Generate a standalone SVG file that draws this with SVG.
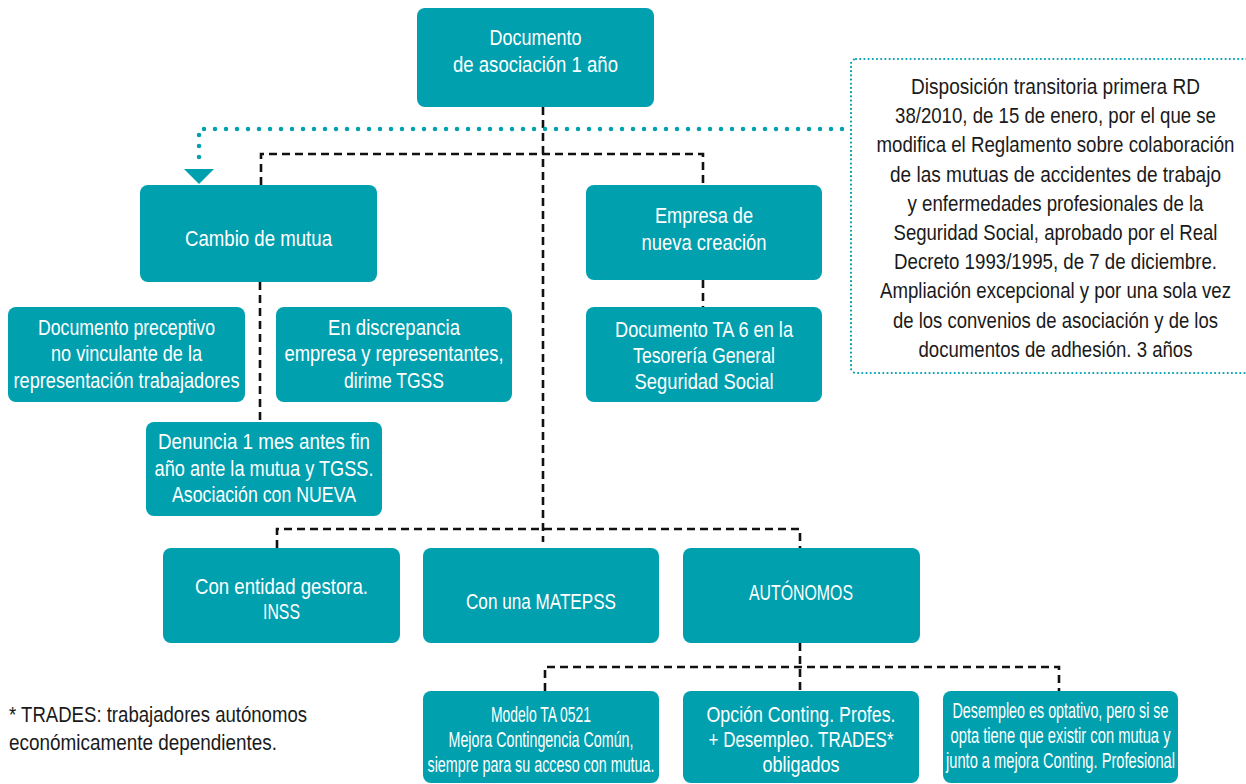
<svg xmlns="http://www.w3.org/2000/svg" width="1246" height="784" viewBox="0 0 1246 784">
  <style>
    .box { fill: #00A0AF; }
    .t { fill: #ffffff; font-family: "Liberation Sans", Arial, sans-serif; font-size: 22px; text-anchor: middle; }
    .k { fill: #1a1a1a; }
    .n { fill: #1a1a1a; font-family: "Liberation Sans", Arial, sans-serif; font-size: 22px; }
    .dash { fill: none; stroke: #111111; stroke-width: 2.6; stroke-dasharray: 8 5; }
    .dots { fill: none; stroke: #00A0AF; stroke-width: 4.5; stroke-linecap: round; stroke-dasharray: 0 11; }
    .fine { fill: none; stroke: #00A0AF; stroke-width: 2.2; stroke-linecap: round; stroke-dasharray: 0 4.2; }
  </style>
  <rect width="1246" height="784" fill="#ffffff"/>

  <!-- connectors -->
  <g id="connectors">
    <path class="dash" d="M543,107 V542"/>
    <path class="dash" d="M261,185 V154 H703 V185"/>
    <path class="dash" d="M703,280 V307"/>
    <path class="dash" d="M260,282 V422"/>
    <path class="dash" d="M277,548 V529 H800 V548"/>
    <path class="dash" d="M800,643 V691"/>
    <path class="dash" d="M545,691 V667 H1059 V691"/>
    <path class="dots" d="M842,129 H199 V163"/>
    <polygon points="184,169 214,169 199,184" fill="#00A0AF"/>
  </g>

  <!-- text is set in a horizontally condensed face: each label group is squeezed around its centre -->
  <g id="n-documento">
    <rect class="box" x="417" y="8" width="237" height="99" rx="8"/>
    <g transform="translate(535.5,0) scale(0.84,1)">
      <text class="t" x="0" y="45" textLength="109.5" lengthAdjust="spacingAndGlyphs">Documento</text>
      <text class="t" x="0" y="72" textLength="196.4" lengthAdjust="spacingAndGlyphs">de asociación 1 año</text>
    </g>
  </g>

  <g id="n-cambio">
    <rect class="box" x="140" y="185" width="237" height="97" rx="8"/>
    <g transform="translate(258.5,0) scale(0.84,1)">
      <text class="t" x="0" y="246" textLength="175" lengthAdjust="spacingAndGlyphs">Cambio de mutua</text>
    </g>
  </g>

  <g id="n-empresa">
    <rect class="box" x="586" y="185" width="236" height="95" rx="8"/>
    <g transform="translate(704,0) scale(0.84,1)">
      <text class="t" x="0" y="223" textLength="116.7" lengthAdjust="spacingAndGlyphs">Empresa de</text>
      <text class="t" x="0" y="250" textLength="148.8" lengthAdjust="spacingAndGlyphs">nueva creación</text>
    </g>
  </g>

  <g id="n-ta6">
    <rect class="box" x="586" y="307" width="236" height="95" rx="8"/>
    <g transform="translate(704,0) scale(0.84,1)">
      <text class="t" x="0" y="337" textLength="211.9" lengthAdjust="spacingAndGlyphs">Documento TA 6 en la</text>
      <text class="t" x="0" y="363" textLength="169" lengthAdjust="spacingAndGlyphs">Tesorería General</text>
      <text class="t" x="0" y="389" textLength="165.5" lengthAdjust="spacingAndGlyphs">Seguridad Social</text>
    </g>
  </g>

  <g id="n-preceptivo">
    <rect class="box" x="8" y="307" width="237" height="95" rx="8"/>
    <g transform="translate(126.5,0) scale(0.84,1)">
      <text class="t" x="0" y="335" textLength="210.7" lengthAdjust="spacingAndGlyphs">Documento preceptivo</text>
      <text class="t" x="0" y="361.5" textLength="179.8" lengthAdjust="spacingAndGlyphs">no vinculante de la</text>
      <text class="t" x="0" y="388" textLength="269" lengthAdjust="spacingAndGlyphs">representación trabajadores</text>
    </g>
  </g>

  <g id="n-discrepancia">
    <rect class="box" x="276" y="307" width="236" height="95" rx="8"/>
    <g transform="translate(394,0) scale(0.84,1)">
      <text class="t" x="0" y="335" textLength="157.1" lengthAdjust="spacingAndGlyphs">En discrepancia</text>
      <text class="t" x="0" y="361.5" textLength="260.7" lengthAdjust="spacingAndGlyphs">empresa y representantes,</text>
      <text class="t" x="0" y="388" textLength="119" lengthAdjust="spacingAndGlyphs">dirime TGSS</text>
    </g>
  </g>

  <g id="n-denuncia">
    <rect class="box" x="146" y="422" width="236" height="94" rx="8"/>
    <g transform="translate(264,0) scale(0.84,1)">
      <text class="t" x="0" y="449" textLength="252.4" lengthAdjust="spacingAndGlyphs">Denuncia 1 mes antes fin</text>
      <text class="t" x="0" y="476" textLength="260.7" lengthAdjust="spacingAndGlyphs">año ante la mutua y TGSS.</text>
      <text class="t" x="0" y="502" textLength="219" lengthAdjust="spacingAndGlyphs">Asociación con NUEVA</text>
    </g>
  </g>

  <g id="n-inss">
    <rect class="box" x="163" y="548" width="237" height="95" rx="8"/>
    <g transform="translate(281.5,0) scale(0.84,1)">
      <text class="t" x="0" y="594" textLength="206" lengthAdjust="spacingAndGlyphs">Con entidad gestora.</text>
      <text class="t" x="0" y="619" textLength="44" lengthAdjust="spacingAndGlyphs">INSS</text>
    </g>
  </g>

  <g id="n-matepss">
    <rect class="box" x="423" y="548" width="236" height="95" rx="8"/>
    <g transform="translate(541,0) scale(0.84,1)">
      <text class="t" x="0" y="609" textLength="178.6" lengthAdjust="spacingAndGlyphs">Con una MATEPSS</text>
    </g>
  </g>

  <g id="n-autonomos">
    <rect class="box" x="683" y="548" width="237" height="95" rx="8"/>
    <g transform="translate(801,0) scale(0.84,1)">
      <text class="t" x="0" y="600" textLength="123.8" lengthAdjust="spacingAndGlyphs">AUTÓNOMOS</text>
    </g>
  </g>

  <g id="n-modelo">
    <rect class="box" x="423" y="691" width="236" height="92" rx="8"/>
    <g transform="translate(541,0) scale(0.66,1)">
      <text class="t" x="0" y="722" textLength="151.5" lengthAdjust="spacingAndGlyphs">Modelo TA 0521</text>
      <text class="t" x="0" y="747" textLength="280.3" lengthAdjust="spacingAndGlyphs">Mejora Contingencia Común,</text>
      <text class="t" x="0" y="772" textLength="343.9" lengthAdjust="spacingAndGlyphs">siempre para su acceso con mutua.</text>
    </g>
  </g>

  <g id="n-opcion">
    <rect class="box" x="683" y="691" width="236" height="92" rx="8"/>
    <g transform="translate(801,0) scale(0.84,1)">
      <text class="t" x="0" y="722" textLength="225" lengthAdjust="spacingAndGlyphs">Opción Conting. Profes.</text>
      <text class="t" x="0" y="747" textLength="220.2" lengthAdjust="spacingAndGlyphs">+ Desempleo. TRADES*</text>
      <text class="t" x="0" y="772" textLength="91.7" lengthAdjust="spacingAndGlyphs">obligados</text>
    </g>
  </g>

  <g id="n-desempleo">
    <rect class="box" x="943" y="691" width="235" height="92" rx="8"/>
    <g transform="translate(1060.5,0) scale(0.66,1)">
      <text class="t" x="0" y="718" textLength="327.3" lengthAdjust="spacingAndGlyphs">Desempleo es optativo, pero si se</text>
      <text class="t" x="0" y="743" textLength="333.3" lengthAdjust="spacingAndGlyphs">opta tiene que existir con mutua y</text>
      <text class="t" x="0" y="768" textLength="347" lengthAdjust="spacingAndGlyphs">junto a mejora Conting. Profesional</text>
    </g>
  </g>

  <g id="n-disposicion">
    <rect class="fine" x="851" y="59" width="410" height="314" rx="5"/>
    <g transform="translate(1055.5,0) scale(0.84,1)">
      <text class="t k" x="0" y="94" textLength="344" lengthAdjust="spacingAndGlyphs">Disposición transitoria primera RD</text>
      <text class="t k" x="0" y="123.2" textLength="382.1" lengthAdjust="spacingAndGlyphs">38/2010, de 15 de enero, por el que se</text>
      <text class="t k" x="0" y="152.4" textLength="426.2" lengthAdjust="spacingAndGlyphs">modifica el Reglamento sobre colaboración</text>
      <text class="t k" x="0" y="181.6" textLength="394" lengthAdjust="spacingAndGlyphs">de las mutuas de accidentes de trabajo</text>
      <text class="t k" x="0" y="210.8" textLength="352.4" lengthAdjust="spacingAndGlyphs">y enfermedades profesionales de la</text>
      <text class="t k" x="0" y="240" textLength="385.7" lengthAdjust="spacingAndGlyphs">Seguridad Social, aprobado por el Real</text>
      <text class="t k" x="0" y="269.2" textLength="384.5" lengthAdjust="spacingAndGlyphs">Decreto 1993/1995, de 7 de diciembre.</text>
      <text class="t k" x="0" y="298.4" textLength="417.9" lengthAdjust="spacingAndGlyphs">Ampliación excepcional y por una sola vez</text>
      <text class="t k" x="0" y="327.6" textLength="386.9" lengthAdjust="spacingAndGlyphs">de los convenios de asociación y de los</text>
      <text class="t k" x="0" y="356.8" textLength="326.2" lengthAdjust="spacingAndGlyphs">documentos de adhesión. 3 años</text>
    </g>
  </g>

  <g id="footnote">
    <g transform="translate(9,0) scale(0.84,1)">
      <text class="n" x="0" y="722" textLength="354.8" lengthAdjust="spacingAndGlyphs">* TRADES: trabajadores autónomos</text>
      <text class="n" x="0" y="750" textLength="319" lengthAdjust="spacingAndGlyphs">económicamente dependientes.</text>
    </g>
  </g>
</svg>
